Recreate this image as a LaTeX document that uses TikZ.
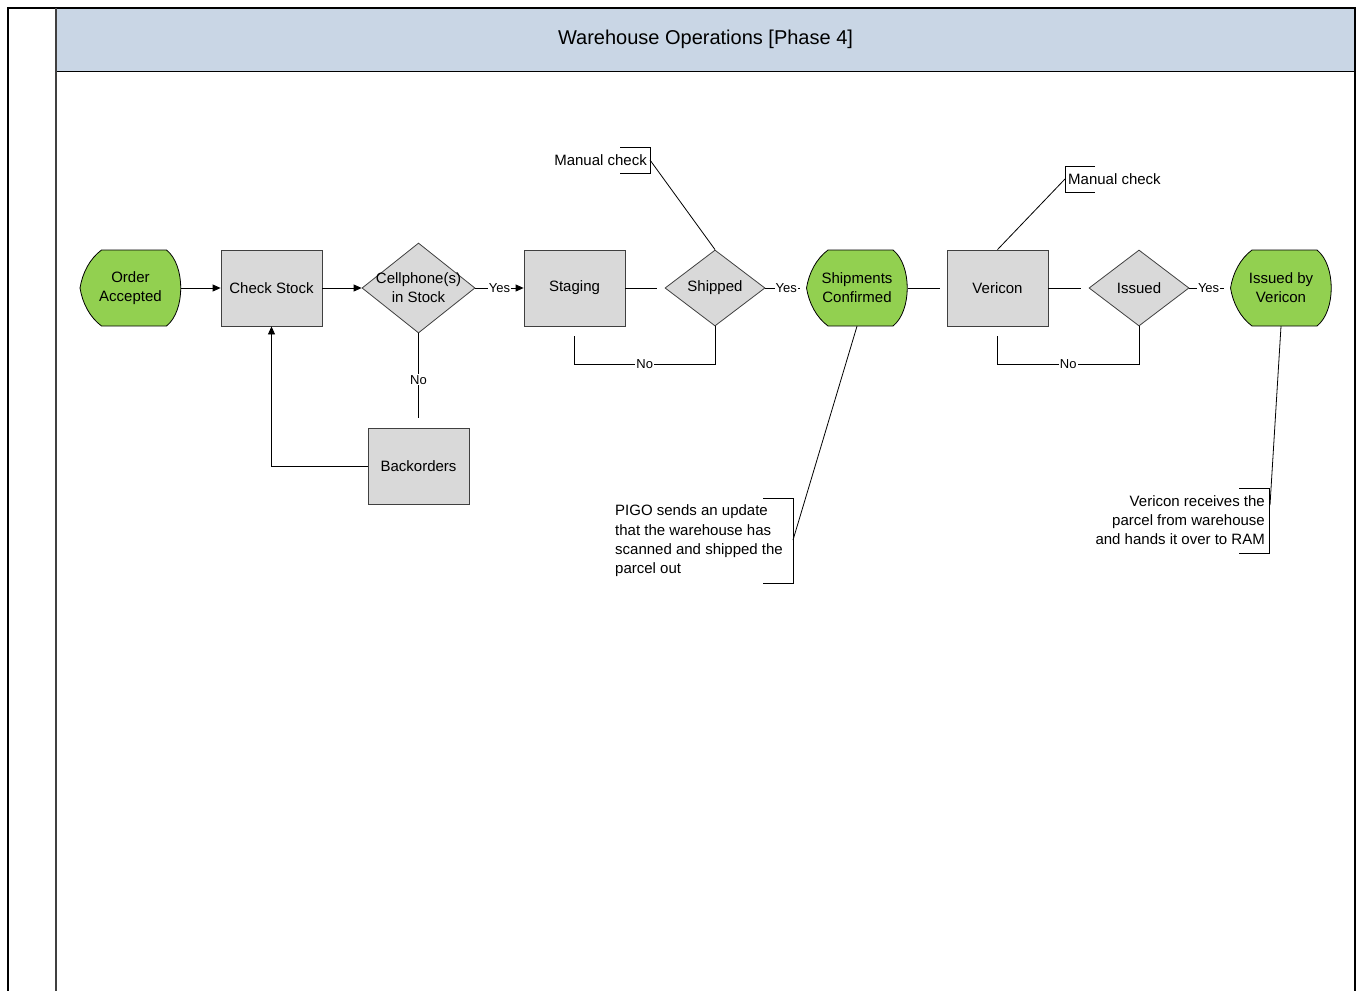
\documentclass[tikz,border=0pt]{standalone}
\usepackage{fontspec}
\setmainfont{Liberation Sans}
\usetikzlibrary{shapes.geometric,arrows.meta,positioning}
\definecolor{lanetitle}{HTML}{C9D6E5}
\definecolor{boxgray}{HTML}{D9D9D9}
\definecolor{termgreen}{HTML}{92D050}
\definecolor{edgegray}{HTML}{404040}
\tikzset{
  bodyfont/.style={font=\fontsize{15}{19}\selectfont},
  process/.style={rectangle, draw=edgegray, fill=boxgray, line width=0.8pt,
    minimum width=101pt, minimum height=76pt, inner sep=0pt, bodyfont},
  decision/.style={diamond, draw=edgegray, fill=boxgray, line width=0.8pt,
    minimum width=100pt, minimum height=76pt, inner sep=0pt},
  inlabel/.style={label={[bodyfont, align=center]center:{#1}}},
  display/.style={rectangle, minimum width=101pt, minimum height=76pt, inner sep=0pt,
    align=center, bodyfont},
  displaypic/.pic={\draw[fill=termgreen, line width=0.8pt]
      (-29,38) .. controls (-41,29) and (-48,15) .. (-50.5,0)
      .. controls (-48,-15) and (-41,-29) .. (-29,-38) -- (36,-38)
      .. controls (55,-23) and (55,23) .. (36,38) -- cycle;},
  flow/.style={line width=0.8pt},
  arrowflow/.style={flow, -{Triangle[length=8pt,width=7pt]}},
  choice/.style={fill=white, inner sep=1pt, font=\fontsize{13}{15}\selectfont},
  note/.style={inner sep=0pt, bodyfont},
  bracket/.style={line width=0.8pt}
}
\begin{document}
\begin{tikzpicture}[x=1pt, y=-1pt]
\useasboundingbox (0,0) rectangle (1361,991);
\fill[lanetitle] (56,8) rectangle (1355,71);
\draw[line width=1.2pt] (8,991) -- (8,8) -- (1355,8) -- (1355,991);
\draw[line width=1pt] (56,71) -- (1355,71);
\draw[edgegray, line width=2pt] (56,8) -- (56,991);
\node[font=\fontsize{20}{24}\selectfont] (title) at (705.5,39.5) {Warehouse Operations [Phase 4]};

\pic at (130.5,288) {displaypic};
\pic at (857,288) {displaypic};
\pic at (1281,288) {displaypic};
\node[display] (acc) at (130.5,288) {Order\\Accepted};
\node[process] (chk) at (271.5,288) {Check Stock};
\node[decision, minimum width=113pt, minimum height=90pt,
  inlabel={Cellphone(s)\\in Stock}] (inst) at (418.5,288) {};
\node[process] (stg) at (574.5,288) {Staging};
\node[decision, inlabel=Shipped] (shp) at (715,288) {};
\node[display] (conf) at (857,288) {Shipments\\Confirmed};
\node[process] (ver) at (997.5,288) {Vericon};
\node[decision, inlabel=Issued] (iss) at (1139,288) {};
\node[display] (issv) at (1281,288) {Issued by\\Vericon};
\node[process] (bko) at (418.5,466) {Backorders};

\draw[arrowflow] (acc) -- (chk);
\draw[arrowflow] (chk) -- (inst);
\draw[arrowflow] (inst.east) -- node[choice] {Yes} (stg.west);
\draw[flow] (stg.east) -- ([xshift=-8pt]shp.west);
\draw[flow] ([yshift=-10pt]stg.south) -- ++(0,28) -| node[choice, pos=0.25] {No} (shp.south);
\draw[flow] (shp.east) -- node[choice, pos=0.6] {Yes} ([xshift=-6pt]conf.west);
\draw[flow] (conf.east) -- ([xshift=-7pt]ver.west);
\draw[flow] (ver.east) -- ([xshift=-8pt]iss.west);
\draw[flow] ([yshift=-10pt]ver.south) -- ++(0,28) -| node[choice, pos=0.25] {No} (iss.south);
\draw[flow] (iss.east) -- node[choice, pos=0.55] {Yes} ([xshift=-6pt]issv.west);
\draw[flow] (inst.south) -- node[choice, pos=0.55] {No} ([yshift=10pt]bko.north);
\draw[arrowflow] (bko.west) -| (chk.south);

\node[note, anchor=east] (chk1) at (647,160) {Manual check};
\draw[bracket] (620,147) -- (650,147) -- (650,173) -- (620,173);
\coordinate (chk1b) at (650,160);
\draw[flow] (chk1b) -- (shp.north);

\node[note, anchor=west] (chk2) at (1068,179) {Manual check};
\draw[bracket] (1095,166) -- (1065,166) -- (1065,192) -- (1095,192);
\coordinate (chk2b) at (1065,179);
\draw[flow] (chk2b) -- (ver.north);

\node[note, anchor=west, align=left, font=\fontsize{15}{19.3}\selectfont] (pigo) at (615,541)
  {PIGO sends an update\\that the warehouse has\\scanned and shipped the\\parcel out};
\draw[bracket] (763,498) -- (793,498) -- (793,583) -- (763,583);
\coordinate (pigob) at (793,540);
\draw[flow] (pigob) -- (conf.south);

\node[note, anchor=east, align=right, font=\fontsize{15}{19.3}\selectfont] (rcv) at (1265,520)
  {Vericon receives the\\parcel from warehouse\\and hands it over to RAM};
\draw[bracket] (1239,488) -- (1269,488) -- (1269,553) -- (1239,553);
\coordinate (rcvb) at (1270,505);
\draw[flow] (rcvb) -- (issv.south);
\end{tikzpicture}
\end{document}
